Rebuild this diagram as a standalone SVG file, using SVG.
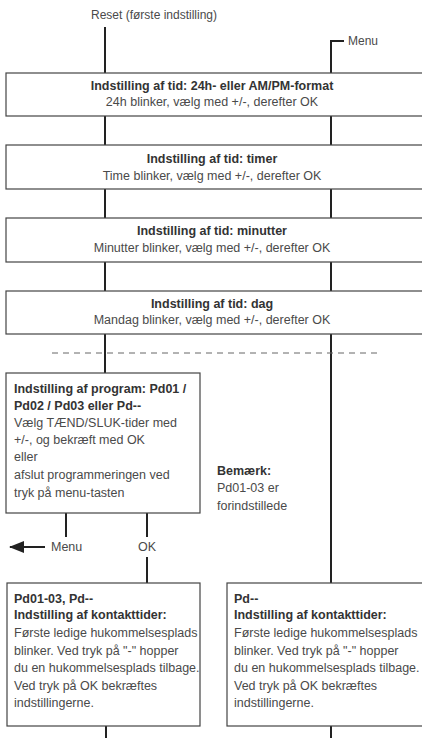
<svg xmlns="http://www.w3.org/2000/svg" width="422" height="738" viewBox="0 0 422 738">
<defs>
<style>
text{font-family:"Liberation Sans",Arial,sans-serif;font-size:12.5px;fill:#4a4a4a}
.b{font-weight:bold;fill:#333}
.c{text-anchor:middle}
.s{font-size:12px}
.box{fill:#fff;stroke:#444;stroke-width:1.2}
.ln{stroke:#222;stroke-width:2;fill:none}
.dash{stroke:#666;stroke-width:1;stroke-dasharray:6 5;fill:none}
</style>
<marker id="ah" markerWidth="15" markerHeight="12" refX="14" refY="6" orient="auto" markerUnits="userSpaceOnUse">
<path d="M0,0 L15,6 L0,12 Z" fill="#222"/>
</marker>
</defs>
<rect width="422" height="738" fill="#fff"/>
<g id="connectors">
<path class="ln" d="M105,27 V73"/>
<path class="ln" d="M344,41 H331 V73"/>
<path class="ln" d="M105,116 V145 M331,116 V145"/>
<path class="ln" d="M105,189 V218 M331,189 V218"/>
<path class="ln" d="M105,262 V291 M331,262 V291"/>
<path class="ln" d="M105,334 V373 M331,334 V583"/>
<path class="dash" d="M52,353 H378"/>
<path class="ln" d="M66,513 V537"/>
<path class="ln" d="M147,513 V537 M147,557 V583"/>
<path class="ln" d="M45,547 H10" marker-end="url(#ah)"/>
<path class="ln" d="M106,726 V738 M331,726 V738"/>
</g>
<g id="reset"><text x="154" y="19" class="c s">Reset (første indstilling)</text></g>
<g id="menu-top"><text x="348" y="45" class="s">Menu</text></g>
<g id="n1">
<rect class="box" x="6" y="73" width="430" height="43"/>
<text x="212" y="90" class="c b">Indstilling af tid: 24h- eller AM/PM-format</text>
<text x="212" y="106" class="c">24h blinker, vælg med +/-, derefter OK</text>
</g>
<g id="n2">
<rect class="box" x="6" y="145" width="430" height="44"/>
<text x="212" y="163" class="c b">Indstilling af tid: timer</text>
<text x="212" y="180" class="c">Time blinker, vælg med +/-, derefter OK</text>
</g>
<g id="n3">
<rect class="box" x="6" y="218" width="430" height="44"/>
<text x="212" y="235" class="c b">Indstilling af tid: minutter</text>
<text x="212" y="252" class="c">Minutter blinker, vælg med +/-, derefter OK</text>
</g>
<g id="n4">
<rect class="box" x="6" y="291" width="430" height="43"/>
<text x="212" y="308" class="c b">Indstilling af tid: dag</text>
<text x="212" y="324" class="c">Mandag blinker, vælg med +/-, derefter OK</text>
</g>
<g id="program">
<rect class="box" x="6" y="373" width="194" height="140"/>
<text x="14" y="393" class="b">Indstilling af program: Pd01 /</text>
<text x="14" y="410" class="b">Pd02 / Pd03 eller Pd--</text>
<text x="14" y="427">Vælg TÆND/SLUK-tider med</text>
<text x="14" y="444">+/-, og bekræft med OK</text>
<text x="14" y="461">eller</text>
<text x="14" y="479">afslut programmeringen ved</text>
<text x="14" y="497">tryk på menu-tasten</text>
</g>
<g id="note">
<text x="217" y="475" class="b">Bemærk:</text>
<text x="217" y="492">Pd01-03 er</text>
<text x="217" y="510">forindstillede</text>
</g>
<g id="menu-ok">
<text x="51" y="551">Menu</text>
<text x="147" y="551" class="c">OK</text>
</g>
<g id="left-bottom">
<rect class="box" x="7" y="583" width="193" height="143"/>
<text x="14" y="603" class="b">Pd01-03, Pd--</text>
<text x="14" y="619" class="b">Indstilling af kontakttider:</text>
<text x="14" y="637">Første ledige hukommelsesplads</text>
<text x="14" y="655">blinker. Ved tryk på "-" hopper</text>
<text x="14" y="672">du en hukommelsesplads tilbage.</text>
<text x="14" y="690">Ved tryk på OK bekræftes</text>
<text x="14" y="707">indstillingerne.</text>
</g>
<g id="right-bottom">
<rect class="box" x="227" y="583" width="210" height="143"/>
<text x="234" y="603" class="b">Pd--</text>
<text x="234" y="619" class="b">Indstilling af kontakttider:</text>
<text x="234" y="637">Første ledige hukommelsesplads</text>
<text x="234" y="655">blinker. Ved tryk på "-" hopper</text>
<text x="234" y="672">du en hukommelsesplads tilbage.</text>
<text x="234" y="690">Ved tryk på OK bekræftes</text>
<text x="234" y="707">indstillingerne.</text>
</g>
</svg>
